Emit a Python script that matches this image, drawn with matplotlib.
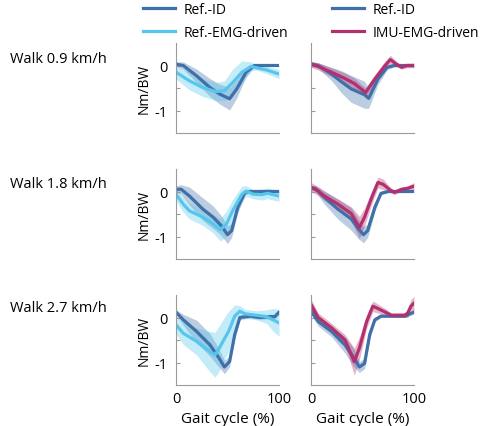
import matplotlib
matplotlib.use("Agg")
import matplotlib.pyplot as plt
import numpy as np

plt.rcParams['font.family'] = ['Open Sans', 'DejaVu Sans']

C_ID = "#3F70A9"
C_EMG = "#56C6EC"
C_IMU = "#B3306F"

row_labels = ["Walk 0.9 km/h", "Walk 1.8 km/h", "Walk 2.7 km/h"]

# ---------- Row 1 (0.9 km/h) ----------
r1L_id_x = [0, 7, 20, 33, 42, 52, 59, 68, 76, 88, 100]
r1L_id_y = [0.03, 0.0, -0.23, -0.49, -0.63, -0.74, -0.52, -0.15, 0.0, 0.0, 0.0]
r1L_id_s = [0.05, 0.08, 0.15, 0.2, 0.22, 0.25, 0.2, 0.1, 0.03, 0.02, 0.02]
r1L_emg_x = [0, 13, 26, 39, 47, 55, 64, 73, 78, 88, 100]
r1L_emg_y = [-0.15, -0.34, -0.49, -0.58, -0.56, -0.38, -0.15, -0.02, -0.05, -0.1, -0.19]
r1L_emg_s = [0.15, 0.2, 0.2, 0.2, 0.22, 0.3, 0.25, 0.1, 0.05, 0.08, 0.1]

r1R_id_x = [0, 7, 20, 30, 39, 52, 56, 65, 74, 81, 100]
r1R_id_y = [0.03, 0.0, -0.19, -0.37, -0.52, -0.65, -0.73, -0.3, -0.04, 0.0, 0.0]
r1R_id_s = [0.05, 0.06, 0.15, 0.25, 0.3, 0.3, 0.22, 0.12, 0.05, 0.03, 0.03]
r1R_imu_x = [0, 7, 20, 33, 42, 53, 62, 72, 77, 83, 88, 93, 100]
r1R_imu_y = [0.03, -0.02, -0.15, -0.29, -0.4, -0.6, -0.3, 0.0, 0.13, 0.03, -0.04, 0.0, 0.0]
r1R_imu_s = [0.07, 0.08, 0.1, 0.12, 0.12, 0.1, 0.1, 0.1, 0.1, 0.06, 0.04, 0.05, 0.05]

# ---------- Row 2 (1.8 km/h) ----------
r2L_id_x = [0, 5, 13, 26, 36, 44, 50, 54, 60, 67, 72, 85, 100]
r2L_id_y = [0.05, 0.05, -0.1, -0.39, -0.57, -0.76, -0.96, -0.87, -0.35, -0.02, 0.0, 0.0, 0.0]
r2L_id_s = [0.08, 0.1, 0.2, 0.25, 0.25, 0.22, 0.2, 0.15, 0.12, 0.05, 0.03, 0.03, 0.03]
r2L_emg_x = [0, 7, 13, 26, 36, 43, 49, 55, 64, 68, 75, 83, 89, 100]
r2L_emg_y = [-0.06, -0.28, -0.43, -0.57, -0.72, -0.85, -0.72, -0.43, -0.06, 0.01, -0.06, -0.07, -0.04, -0.1]
r2L_emg_s = [0.15, 0.18, 0.18, 0.18, 0.2, 0.25, 0.28, 0.25, 0.18, 0.12, 0.1, 0.12, 0.12, 0.12]

r2R_id_x = [0, 4, 13, 26, 39, 46, 51, 55, 62, 68, 75, 100]
r2R_id_y = [0.07, 0.07, -0.13, -0.39, -0.61, -0.83, -0.96, -0.87, -0.35, -0.04, 0.0, 0.0]
r2R_id_s = [0.05, 0.06, 0.15, 0.22, 0.25, 0.22, 0.18, 0.15, 0.1, 0.04, 0.02, 0.02]
r2R_imu_x = [0, 7, 13, 26, 39, 47, 52, 59, 65, 70, 77, 81, 88, 94, 100]
r2R_imu_y = [0.1, 0.01, -0.1, -0.28, -0.49, -0.8, -0.57, -0.13, 0.2, 0.16, 0.03, -0.02, 0.05, 0.07, 0.12]
r2R_imu_s = [0.1, 0.1, 0.1, 0.12, 0.15, 0.25, 0.2, 0.15, 0.12, 0.12, 0.06, 0.05, 0.05, 0.06, 0.08]

# ---------- Row 3 (2.7 km/h) ----------
r3L_id_x = [0, 7, 20, 33, 42, 47, 52, 57, 62, 72, 81, 91, 96, 100]
r3L_id_y = [0.12, -0.05, -0.31, -0.61, -0.91, -1.1, -0.98, -0.38, 0.0, 0.03, 0.0, 0.02, 0.02, 0.12]
r3L_id_s = [0.05, 0.12, 0.25, 0.25, 0.2, 0.15, 0.12, 0.1, 0.05, 0.04, 0.04, 0.05, 0.05, 0.05]
r3L_emg_x = [0, 7, 20, 33, 38, 42, 51, 57, 62, 67, 78, 88, 94, 100]
r3L_emg_y = [-0.16, -0.35, -0.53, -0.76, -0.83, -0.68, -0.31, 0.03, 0.14, 0.08, 0.05, 0.02, -0.05, -0.12]
r3L_emg_s = [0.2, 0.25, 0.3, 0.45, 0.5, 0.5, 0.45, 0.25, 0.12, 0.1, 0.1, 0.15, 0.25, 0.3]

r3R_id_x = [0, 7, 20, 33, 42, 47, 52, 57, 62, 68, 78, 91, 100]
r3R_id_y = [0.14, -0.09, -0.31, -0.61, -0.91, -1.1, -1.02, -0.38, -0.05, 0.03, 0.03, 0.03, 0.12]
r3R_id_s = [0.06, 0.1, 0.12, 0.18, 0.2, 0.12, 0.12, 0.1, 0.05, 0.03, 0.03, 0.03, 0.04]
r3R_imu_x = [0, 7, 20, 33, 42, 47, 54, 60, 65, 72, 78, 91, 94, 97, 100]
r3R_imu_y = [0.29, 0.0, -0.23, -0.5, -0.98, -0.68, -0.09, 0.25, 0.2, 0.12, 0.05, 0.05, 0.1, 0.25, 0.32]
r3R_imu_s = [0.12, 0.1, 0.1, 0.12, 0.3, 0.25, 0.15, 0.12, 0.1, 0.08, 0.05, 0.05, 0.1, 0.15, 0.15]

panels = [
    [[(r1L_id_x, r1L_id_y, r1L_id_s, C_ID), (r1L_emg_x, r1L_emg_y, r1L_emg_s, C_EMG)],
     [(r1R_id_x, r1R_id_y, r1R_id_s, C_ID), (r1R_imu_x, r1R_imu_y, r1R_imu_s, C_IMU)]],
    [[(r2L_id_x, r2L_id_y, r2L_id_s, C_ID), (r2L_emg_x, r2L_emg_y, r2L_emg_s, C_EMG)],
     [(r2R_id_x, r2R_id_y, r2R_id_s, C_ID), (r2R_imu_x, r2R_imu_y, r2R_imu_s, C_IMU)]],
    [[(r3L_id_x, r3L_id_y, r3L_id_s, C_ID), (r3L_emg_x, r3L_emg_y, r3L_emg_s, C_EMG)],
     [(r3R_id_x, r3R_id_y, r3R_id_s, C_ID), (r3R_imu_x, r3R_imu_y, r3R_imu_s, C_IMU)]],
]

W, H = 480, 427
fig = plt.figure(figsize=(4.8, 4.27), dpi=100)

col_left = [176, 311]
col_w = 103
row_top = [44, 170, 296]
row_h = 90
row_label_y = [60, 185, 309]

FS = 10
spine_c = "#9a9a9a"
axes = {}
for r in range(3):
    for c in range(2):
        ax = fig.add_axes([col_left[c] / W, 1 - (row_top[r] + row_h) / H, col_w / W, row_h / H])
        axes[(r, c)] = ax
        for (x, y, s, col) in panels[r][c]:
            x = np.array(x); y = np.array(y); s = np.array(s)
            ax.fill_between(x, y - s, y + s, color=col, alpha=0.35, lw=0)
        for (x, y, s, col) in panels[r][c]:
            ax.plot(x, y, color=col, lw=2.3, solid_capstyle='round')
        ax.set_xlim(0, 100)
        ax.set_ylim(-1.5, 0.5)
        for sp in ['top', 'right']:
            ax.spines[sp].set_visible(False)
        for sp in ['left', 'bottom']:
            ax.spines[sp].set_color(spine_c)
            ax.spines[sp].set_linewidth(0.8)
        ax.set_yticks([0, -0.5, -1])
        ax.tick_params(axis='y', direction='in', length=3, color=spine_c, labelsize=10.5, pad=6)
        ax.tick_params(axis='x', length=0, labelsize=10.5, pad=4)
        if c == 0:
            ax.set_yticklabels(['0', '', '-1'])
            ax.set_ylabel('Nm/BW', fontsize=FS, labelpad=2)
        else:
            ax.set_yticklabels(['', '', ''])
        if r == 2:
            ax.set_xticks([0, 100])
            ax.set_xticklabels(['0', '100'])
            ax.set_xlabel('Gait cycle (%)', fontsize=11, labelpad=4)
        else:
            ax.set_xticks([])
    fig.text(10 / W, 1 - row_label_y[r] / H, row_labels[r], fontsize=10.5, va='center', ha='left')

from matplotlib.lines import Line2D
h1 = [Line2D([], [], color=C_ID, lw=2.3), Line2D([], [], color=C_EMG, lw=2.3)]
h2 = [Line2D([], [], color=C_ID, lw=2.3), Line2D([], [], color=C_IMU, lw=2.3)]
leg_kw = dict(frameon=False, fontsize=FS, loc='upper left', borderpad=0, borderaxespad=0,
              handlelength=2.3, handletextpad=0.6, labelspacing=0.6,
              bbox_transform=fig.transFigure)
fig.legend(h1, ['Ref.-ID', 'Ref.-EMG-driven'], bbox_to_anchor=(143 / W, 1 - 3 / H), **leg_kw)
fig.legend(h2, ['Ref.-ID', 'IMU-EMG-driven'], bbox_to_anchor=(332 / W, 1 - 3 / H), **leg_kw)

fig.savefig("out.png", dpi=100)
